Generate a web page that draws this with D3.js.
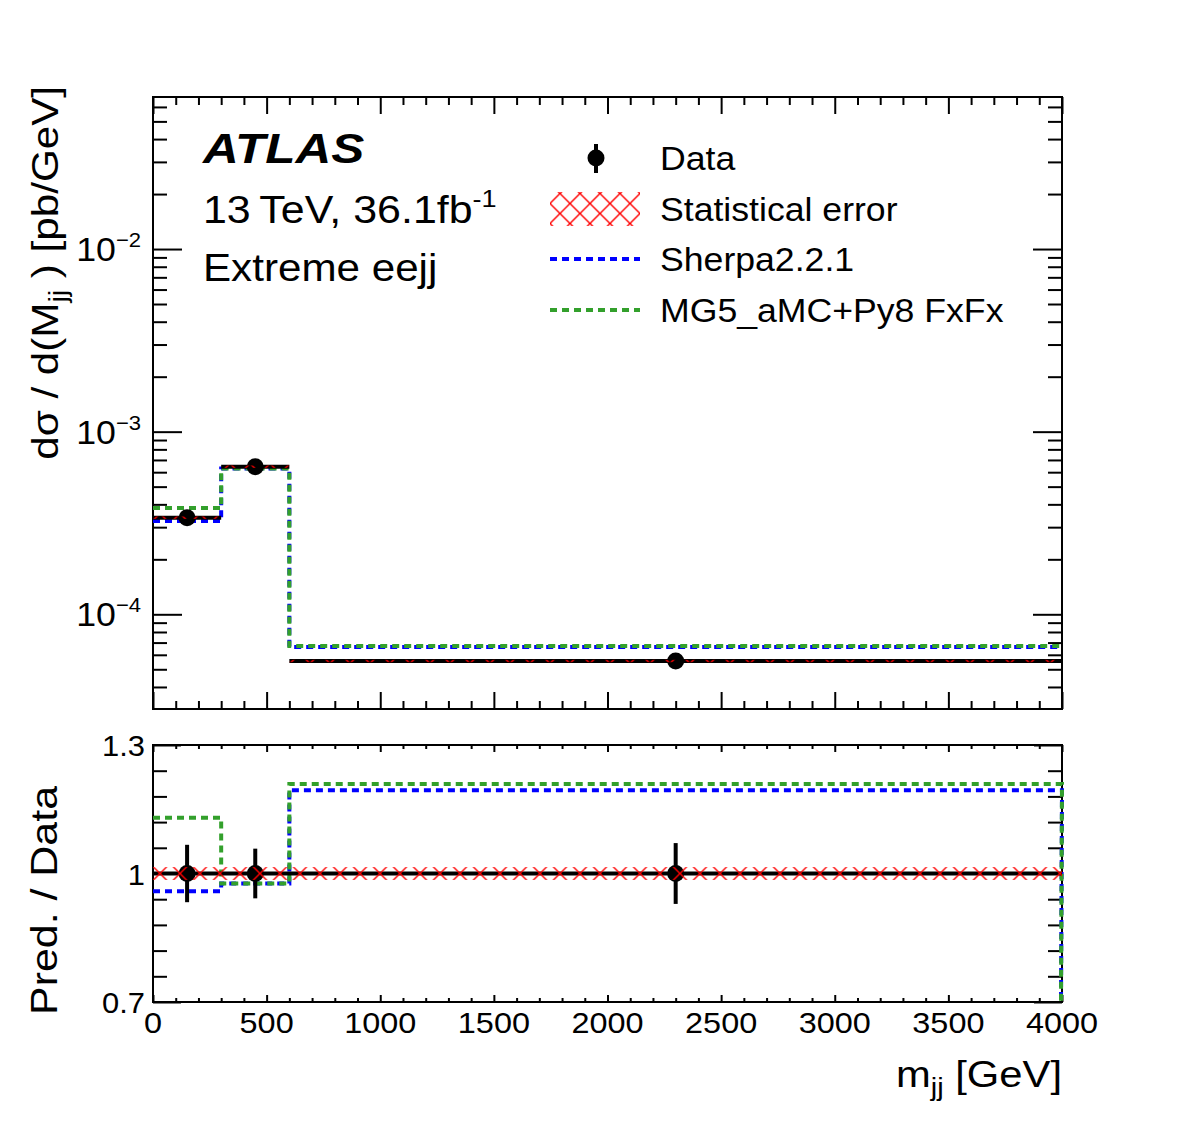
<!DOCTYPE html>
<html>
<head>
<meta charset="utf-8">
<script src="https://cdn.jsdelivr.net/npm/d3@7"></script>
<style>
  body { margin: 0; background: #fff; }
  svg { font-family: "Liberation Sans", Arial, Helvetica, sans-serif; }
</style>
</head>
<body>
<div id="chart"></div>
<script>
// bins in m_jj [GeV]
const binEdges = [0, 300, 600, 4000];
const binCenters = [150, 450, 2300];

// d sigma / d m_jj [pb/GeV]
const dataXsec = [3.38e-4, 6.43e-4, 5.55e-5];
const dataRelErr = [0.067, 0.058, 0.071];
const statRelErr = [0.015, 0.015, 0.015];
const sherpaXsec = [3.24e-4, 6.28e-4, 6.63e-5];
const mg5Xsec = [3.82e-4, 6.28e-4, 6.71e-5];

const xTickValues = [0, 500, 1000, 1500, 2000, 2500, 3000, 3500, 4000];
const yDecades = [1e-4, 1e-3, 1e-2];
const ratioLabels = [0.7, 1, 1.3];

const legendItems = ['Data', 'Statistical error', 'Sherpa2.2.1', 'MG5_aMC+Py8 FxFx'];

const W = 1182, H = 1123;
const left = 153, right = 1062;
const top1 = 97, bot1 = 709, top2 = 745, bot2 = 1002;
const blue = '#0000ff', green = '#33a02c';

const svg = d3.select('#chart').append('svg')
    .attr('width', W)
    .attr('height', H);

const x = d3.scaleLinear().domain([0, 4000]).range([left, right]);
const yTop = d3.scaleLog().domain([3.03e-5, 0.068]).range([bot1, top1]);
const yR = d3.scaleLinear().domain([0.7, 1.3]).range([bot2, top2]);

// ROOT's helvetica comes out wider than ours, stretch text a bit
function place(sel, px, py, k, rot) {
    sel.attr('transform', `translate(${px},${py})` + (rot ? ` rotate(${rot})` : '') + ` scale(${k},1)`);
    return sel;
}

// hatch for statistical error
const defs = svg.append('defs');
defs.append('pattern')
    .attr('id', 'hatch')
    .attr('patternUnits', 'userSpaceOnUse')
    .attr('width', 20).attr('height', 20)
    .attr('patternTransform', `translate(150, ${yR(1) - 10})`)
  .append('path')
    .attr('d', 'M0,0L20,20M20,0L0,20')
    .attr('stroke', '#ff0000')
    .attr('stroke-width', 1.4)
    .attr('fill', 'none');

// ---- ticks ----
function ticks(g, axis) {
    g.call(axis);
    g.select('.domain').remove();
    g.selectAll('.tick line').attr('stroke', '#000').attr('stroke-width', 2);
    g.selectAll('.tick text').remove();
}

const xMinor = d3.range(0, 4001, 100).filter(v => v % 500 !== 0);
const logAll = yTop.ticks();
const logMinor = logAll.filter(v => !yDecades.some(d => Math.abs(v / d - 1) < 1e-6));
const ratioMinor = d3.range(0, 11).map(i => 0.7 + i * 0.06).filter(v => Math.abs(v - 1) > 1e-6 && v > 0.71 && v < 1.29);

function panelTicks(yScale, y0, y1, xMaj, xMin, yMajVals, yMinVals, yMaj, yMin) {
    const axB = svg.append('g').attr('transform', `translate(0,${y1})`);
    ticks(axB.append('g'), d3.axisBottom(x).tickValues(xTickValues).tickSizeInner(-xMaj).tickSizeOuter(0));
    ticks(axB.append('g'), d3.axisBottom(x).tickValues(xMinor).tickSizeInner(-xMin).tickSizeOuter(0));
    const axT = svg.append('g').attr('transform', `translate(0,${y0})`);
    ticks(axT.append('g'), d3.axisTop(x).tickValues(xTickValues).tickSizeInner(-xMaj).tickSizeOuter(0));
    ticks(axT.append('g'), d3.axisTop(x).tickValues(xMinor).tickSizeInner(-xMin).tickSizeOuter(0));
    const axL = svg.append('g').attr('transform', `translate(${left},0)`);
    ticks(axL.append('g'), d3.axisLeft(yScale).tickValues(yMajVals).tickSizeInner(-yMaj).tickSizeOuter(0));
    ticks(axL.append('g'), d3.axisLeft(yScale).tickValues(yMinVals).tickSizeInner(-yMin).tickSizeOuter(0));
    const axR = svg.append('g').attr('transform', `translate(${right},0)`);
    ticks(axR.append('g'), d3.axisRight(yScale).tickValues(yMajVals).tickSizeInner(-yMaj).tickSizeOuter(0));
    ticks(axR.append('g'), d3.axisRight(yScale).tickValues(yMinVals).tickSizeInner(-yMin).tickSizeOuter(0));
    svg.append('rect')
        .attr('x', left).attr('y', y0)
        .attr('width', right - left).attr('height', y1 - y0)
        .attr('fill', 'none').attr('stroke', '#000').attr('stroke-width', 2);
}

panelTicks(yTop, top1, bot1, 17, 8, yDecades, logMinor, 29, 14);
panelTicks(yR, top2, bot2, 7, 4, ratioLabels, ratioMinor, 28, 14);

// ---- histogram helpers ----
function stepPath(vals, yScale, dropTo) {
    let p = d3.path();
    p.moveTo(x(binEdges[0]), yScale(vals[0]));
    vals.forEach((v, i) => {
        if (i > 0) p.lineTo(x(binEdges[i]), yScale(v));
        p.lineTo(x(binEdges[i + 1]), yScale(v));
    });
    if (dropTo !== undefined) p.lineTo(x(binEdges[binEdges.length - 1]) - 1, dropTo);
    return p.toString();
}

function mcLine(g, d, color) {
    g.append('path')
        .attr('d', d)
        .attr('fill', 'none')
        .attr('stroke', color)
        .attr('stroke-width', 4)
        .attr('stroke-dasharray', '7,5');
}

// ---- top panel ----
const gTop = svg.append('g');
mcLine(gTop, stepPath(sherpaXsec, yTop), blue);
mcLine(gTop, stepPath(mg5Xsec, yTop), green);

gTop.selectAll('.dline')
    .data(dataXsec)
    .join('line')
    .attr('x1', (d, i) => x(binEdges[i]))
    .attr('x2', (d, i) => x(binEdges[i + 1]))
    .attr('y1', d => yTop(d)).attr('y2', d => yTop(d))
    .attr('stroke', '#000').attr('stroke-width', 4);

gTop.selectAll('.derr')
    .data(dataXsec)
    .join('line')
    .attr('x1', (d, i) => x(binCenters[i])).attr('x2', (d, i) => x(binCenters[i]))
    .attr('y1', (d, i) => yTop(d * (1 + dataRelErr[i])))
    .attr('y2', (d, i) => yTop(d * (1 - dataRelErr[i])))
    .attr('stroke', '#000').attr('stroke-width', 4);

gTop.selectAll('.dpt')
    .data(dataXsec)
    .join('circle')
    .attr('cx', (d, i) => x(binCenters[i]))
    .attr('cy', d => yTop(d))
    .attr('r', 8.5)
    .attr('fill', '#000');

gTop.selectAll('.stat')
    .data(dataXsec)
    .join('rect')
    .attr('x', (d, i) => x(binEdges[i]))
    .attr('width', (d, i) => x(binEdges[i + 1]) - x(binEdges[i]))
    .attr('y', (d, i) => yTop(d * (1 + statRelErr[i])))
    .attr('height', (d, i) => yTop(d * (1 - statRelErr[i])) - yTop(d * (1 + statRelErr[i])))
    .attr('fill', 'url(#hatch)');

// ---- ratio panel ----
const gR = svg.append('g');
mcLine(gR, stepPath(sherpaXsec.map((v, i) => v / dataXsec[i]), yR, bot2), blue);
mcLine(gR, stepPath(mg5Xsec.map((v, i) => v / dataXsec[i]), yR, bot2), green);

gR.append('line')
    .attr('x1', x(0)).attr('x2', x(4000))
    .attr('y1', yR(1)).attr('y2', yR(1))
    .attr('stroke', '#000').attr('stroke-width', 4);

gR.selectAll('.rerr')
    .data(dataRelErr)
    .join('line')
    .attr('x1', (d, i) => x(binCenters[i])).attr('x2', (d, i) => x(binCenters[i]))
    .attr('y1', d => yR(1 + d)).attr('y2', d => yR(1 - d))
    .attr('stroke', '#000').attr('stroke-width', 4);

gR.selectAll('.rpt')
    .data(dataRelErr)
    .join('circle')
    .attr('cx', (d, i) => x(binCenters[i]))
    .attr('cy', yR(1))
    .attr('r', 8.5)
    .attr('fill', '#000');

gR.selectAll('.rstat')
    .data(statRelErr)
    .join('rect')
    .attr('x', (d, i) => x(binEdges[i]))
    .attr('width', (d, i) => x(binEdges[i + 1]) - x(binEdges[i]))
    .attr('y', d => yR(1 + d))
    .attr('height', d => yR(1 - d) - yR(1 + d))
    .attr('fill', 'url(#hatch)');

// ---- tick labels ----
yDecades.forEach(v => {
    const t = svg.append('text').attr('text-anchor', 'end').attr('font-size', 34);
    place(t, 141, yTop(v) + 12, 1.05);
    t.append('tspan').text('10');
    t.append('tspan').attr('font-size', 21).attr('dy', -14).text('\u2212' + Math.round(-Math.log10(v)));
});

ratioLabels.forEach(v => {
    place(svg.append('text'), 145, yR(v) + 11, 1.03)
        .attr('text-anchor', 'end')
        .attr('font-size', 30)
        .text(v);
});

xTickValues.forEach(v => {
    place(svg.append('text'), x(v), 1033, 1.08)
        .attr('text-anchor', 'middle')
        .attr('font-size', 30)
        .text(v);
});

// ---- axis titles ----
const yt = place(svg.append('text'), 58, 86, 1.14, -90)
    .attr('text-anchor', 'end')
    .attr('font-size', 37);
yt.append('tspan').text('d\u03c3 / d(M');
yt.append('tspan').attr('font-size', 25).attr('dy', 9).text('jj');
yt.append('tspan').attr('dy', -9).text(' ) [pb/GeV]');

place(svg.append('text'), 57, 786, 1.16, -90)
    .attr('text-anchor', 'end')
    .attr('font-size', 37)
    .text('Pred. / Data');

const xt = place(svg.append('text'), right, 1087, 1.16)
    .attr('text-anchor', 'end')
    .attr('font-size', 36);
xt.append('tspan').text('m');
xt.append('tspan').attr('font-size', 25).attr('dy', 9).text('jj');
xt.append('tspan').attr('dy', -9).text(' [GeV]');

// ---- labels ----
place(svg.append('text'), 203, 163, 1.15)
    .attr('font-size', 43).attr('font-weight', 'bold').attr('font-style', 'italic')
    .text('ATLAS');
const lumi = place(svg.append('text'), 203, 223, 1.13).attr('font-size', 38);
lumi.append('tspan').text('13\u2009TeV, 36.1fb');
lumi.append('tspan').attr('font-size', 24).attr('dy', -16).text('-1');
place(svg.append('text'), 203, 281, 1.11)
    .attr('font-size', 38)
    .text('Extreme eejj');

// ---- legend ----
const lg = svg.append('g');
const rowY = [158, 209, 259, 310];
lg.append('line')
    .attr('x1', 596).attr('x2', 596).attr('y1', 144).attr('y2', 173)
    .attr('stroke', '#000').attr('stroke-width', 4);
lg.append('circle').attr('cx', 596).attr('cy', rowY[0]).attr('r', 8.5).attr('fill', '#000');
lg.append('rect')
    .attr('x', 550).attr('y', 192).attr('width', 90).attr('height', 34)
    .attr('fill', 'url(#hatch)');
[[blue, rowY[2]], [green, rowY[3]]].forEach(([c, y]) => {
    mcLine(lg, `M550,${y}H640`, c);
});
legendItems.forEach((d, i) => {
    place(lg.append('text'), 660, rowY[i] + 12, 1.08)
        .attr('font-size', 33)
        .text(d);
});
</script>
</body>
</html>
